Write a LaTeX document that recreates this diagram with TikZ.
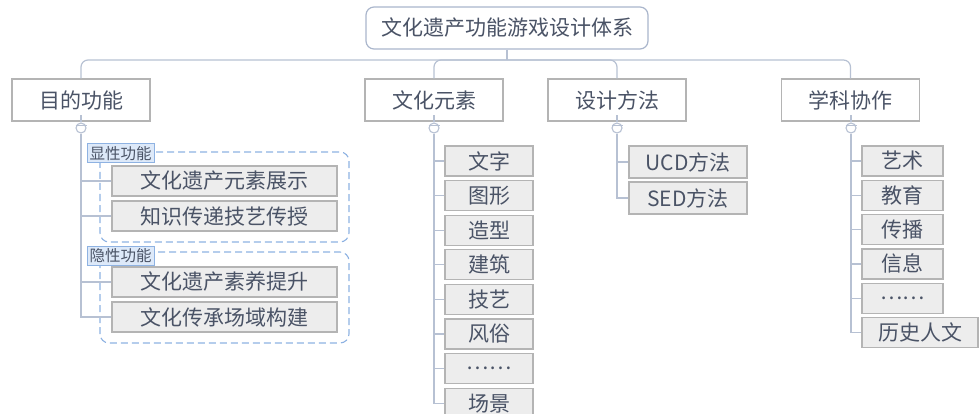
\documentclass[tikz,border=0pt]{standalone}
\usepackage{fontspec}
\setmainfont{Noto Sans CJK SC}
\definecolor{linec}{HTML}{B7C1D3}
\definecolor{txtc}{HTML}{4A5366}
\definecolor{boxb}{HTML}{B4B4B4}
\definecolor{boxf}{HTML}{EDEDED}
\definecolor{dashc}{HTML}{8EB2E2}
\definecolor{labf}{HTML}{DDE9F9}
\definecolor{rootb}{HTML}{AAB6CC}
\tikzset{
  conn/.style={draw=linec, line width=1.2pt},
  rootbox/.style={draw=rootb, line width=1.2pt, rounded corners=8pt, fill=white, minimum width=282pt, minimum height=42pt, inner sep=0pt, text=txtc, font=\fontsize{21}{23}\selectfont},
  topbox/.style={draw=boxb, line width=1.2pt, fill=white, minimum width=138pt, minimum height=42pt, inner sep=0pt, text=txtc, font=\fontsize{21}{23}\selectfont},
  leaf/.style={draw=boxb, line width=1.2pt, fill=boxf, minimum height=30pt, inner sep=0pt, text=txtc, font=\fontsize{21}{23}\selectfont},
  grouplab/.style={draw=dashc, line width=1pt, fill=labf, minimum width=67pt, minimum height=19pt, inner sep=0pt, text=txtc, font=\fontsize{15.5}{16}\selectfont},
  groupbox/.style={draw=dashc, line width=1.1pt, dash pattern=on 7pt off 4pt, rounded corners=9pt},
  toggle/.style={circle, draw=linec, line width=1.1pt, fill=white, minimum size=10pt, inner sep=0pt},
}
\begin{document}
\begin{tikzpicture}[x=1pt,y=-1pt]
\useasboundingbox (0,0) rectangle (979,414);
% dashed groups
\draw[groupbox] (100,152) rectangle (349,242);
\draw[groupbox] (100,252) rectangle (349,343);
% root and top level
\node[rootbox] (root) at (507,28) {文化遗产功能游戏设计体系};
\node[topbox] (a) at (81,100) {目的功能};
\node[topbox] (b) at (434,100) {文化元素};
\node[topbox] (c) at (617,100) {设计方法};
\node[topbox] (d) at (850.5,100) {学科协作};
\coordinate (hb) at (507,60);
\draw[conn] (root.south) -- (hb);
\draw[conn, rounded corners=7pt] (a.north) |- (hb) -| (d.north);
\draw[conn, rounded corners=7pt] (b.north) |- (hb);
\draw[conn, rounded corners=7pt] (c.north) |- (hb);
% toggles
\node[toggle] (ta) at (81,128) {};
\node[toggle] (tb) at (434,128) {};
\node[toggle] (tc) at (617,128) {};
\node[toggle] (td) at (851,128) {};
\foreach \t in {ta,tb,tc,td}{
  \draw[conn] (\t.north) -- ++(0,-7);
  \draw[draw=linec, line width=1.1pt] ([xshift=-5.5pt,yshift=2.5pt]\t.center) -- ([xshift=5.5pt,yshift=2.5pt]\t.center);
}
% group a
\node[grouplab] (ga) at (120.5,153.5) {显性功能};
\node[grouplab] (gb) at (120.5,255.5) {隐性功能};
\node[leaf, minimum width=225pt] (a1) at (224.5,181) {文化遗产元素展示};
\node[leaf, minimum width=225pt] (a2) at (224.5,216) {知识传递技艺传授};
\node[leaf, minimum width=225pt] (a3) at (224.5,282) {文化遗产素养提升};
\node[leaf, minimum width=225pt] (a4) at (224.5,317) {文化传承场域构建};
\draw[conn] (ta.south) |- (a4.west);
\foreach \n in {a1,a2,a3}{ \draw[conn] (\n.west) -- (\n.west -| ta.south); }
% group b
\node[leaf, minimum width=88pt] (b1) at (489,161) {文字};
\node[leaf, minimum width=88pt] (b2) at (489,195.6) {图形};
\node[leaf, minimum width=88pt] (b3) at (489,230.2) {造型};
\node[leaf, minimum width=88pt] (b4) at (489,264.8) {建筑};
\node[leaf, minimum width=88pt] (b5) at (489,299.4) {技艺};
\node[leaf, minimum width=88pt] (b6) at (489,334) {风俗};
\node[leaf, minimum width=88pt] (b7) at (489,368.6) {……};
\node[leaf, minimum width=88pt] (b8) at (489,403.2) {场景};
\draw[conn] (tb.south) |- (b8.west);
\foreach \n in {b1,b2,b3,b4,b5,b6,b7}{ \draw[conn] (\n.west) -- (\n.west -| tb.south); }
% group c
\node[leaf, minimum width=118pt, minimum height=32pt] (c1) at (688,162) {UCD方法};
\node[leaf, minimum width=118pt, minimum height=32pt] (c2) at (688,198) {SED方法};
\draw[conn] (tc.south) |- (c2.west);
\draw[conn] (c1.west) -- (c1.west -| tc.south);
% group d
\node[leaf, minimum width=81pt] (d1) at (902.5,161) {艺术};
\node[leaf, minimum width=81pt] (d2) at (902.5,195.3) {教育};
\node[leaf, minimum width=81pt] (d3) at (902.5,229.6) {传播};
\node[leaf, minimum width=81pt] (d4) at (902.5,263.9) {信息};
\node[leaf, minimum width=81pt] (d5) at (902.5,298.2) {……};
\node[leaf, minimum width=116pt] (d6) at (920,332.5) {历史人文};
\draw[conn] (td.south) |- (d6.west);
\foreach \n in {d1,d2,d3,d4,d5}{ \draw[conn] (\n.west) -- (\n.west -| td.south); }
\end{tikzpicture}
\end{document}
